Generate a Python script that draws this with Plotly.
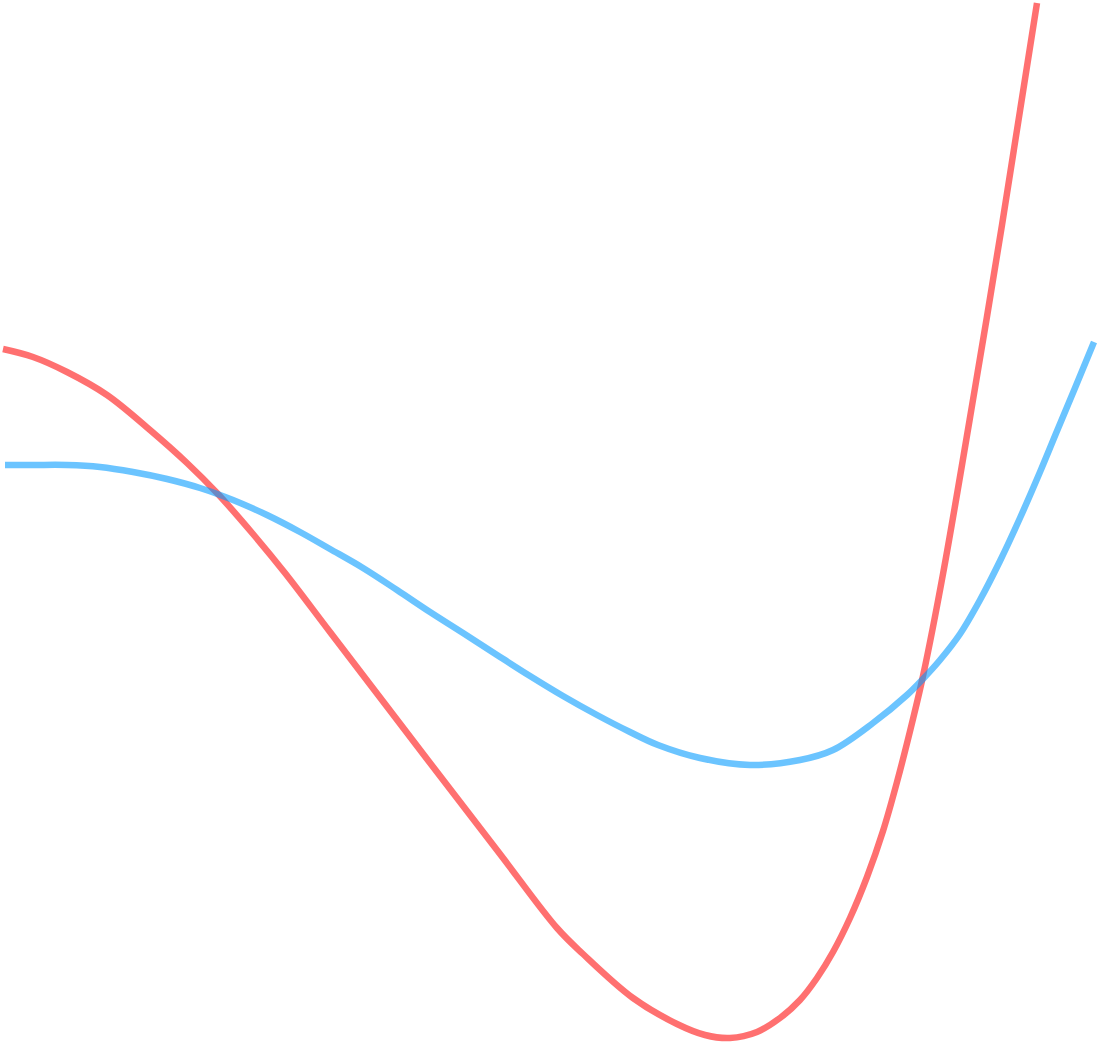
import plotly.graph_objects as go

W, H = 1099, 1042

# red series (x, y; y axis runs top-down)
red_x = [3, 33, 67, 107, 150, 187, 217, 253, 285, 330, 427, 500, 557, 583, 633, 677,
         705, 730, 757, 780, 800, 817, 833, 850, 867, 883, 897, 913, 923, 943, 975, 1002, 1037]
red_y = [349, 357, 372, 395, 430, 463, 493, 534, 573, 632, 759, 854, 928, 954, 998, 1024,
         1035, 1038, 1032, 1018, 1000, 978, 952, 918, 877, 831, 782, 719, 676, 574, 388, 225, 3]

# blue series
blue_x = [5, 33, 67, 100, 133, 167, 200, 233, 267, 300, 330, 363, 397, 430, 463, 497,
          530, 563, 597, 630, 658, 700, 750, 800, 833, 873, 907, 922, 940, 960, 980,
          1000, 1020, 1040, 1057, 1075, 1094]
blue_y = [465, 465, 465, 467, 472, 479, 488, 500, 515, 532, 549, 568, 590, 612, 633, 655,
          676, 696, 715, 732, 745, 758, 765, 760, 750, 723, 695, 680, 660, 634, 600,
          561, 518, 472, 431, 388, 342]

fig = go.Figure()

fig.add_trace(go.Scatter(
    x=red_x, y=red_y,
    mode='lines',
    line=dict(color='rgba(255,0,0,0.56)', width=6.5, shape='spline', smoothing=1),
    showlegend=False,
))
fig.add_trace(go.Scatter(
    x=blue_x, y=blue_y,
    mode='lines',
    line=dict(color='rgba(0,153,255,0.58)', width=6.5, shape='spline', smoothing=1),
    showlegend=False,
))

fig.update_xaxes(visible=False, range=[0, W])
fig.update_yaxes(visible=False, range=[H, 0])
fig.update_layout(
    width=W, height=H,
    margin=dict(l=0, r=0, t=0, b=0),
    plot_bgcolor='white',
    paper_bgcolor='white',
)

# page body has a default 8px margin, drop it so the chart sits at 0,0
fig.write_html("out.html", config={'displayModeBar': False},
               post_script="document.body.style.margin='0';")
